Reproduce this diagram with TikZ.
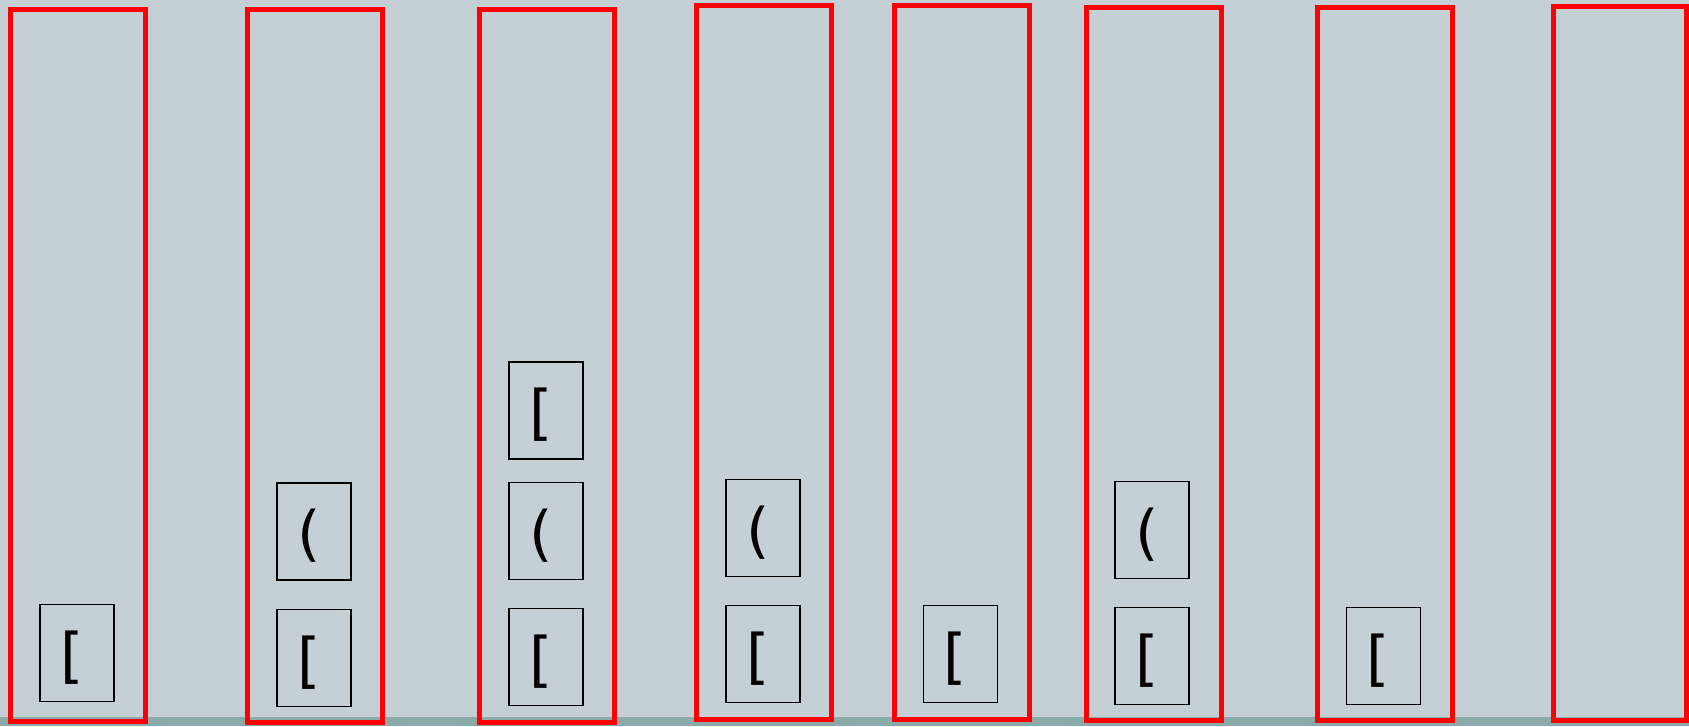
\documentclass[tikz,border=0pt]{standalone}
\usepackage{fontspec}
\newfontfamily\glyphfont{DejaVu Sans}
\definecolor{bgc}{HTML}{C5D0D6}
\definecolor{barc}{HTML}{8BABAB}
\definecolor{redc}{HTML}{FF0000}
\begin{document}
\begin{tikzpicture}[x=0.75pt,y=-0.75pt,
  stack/.style={draw=redc,line width=3.75pt},
  item/.style={draw=black,line width=1.1pt,rectangle,inner sep=0pt,
    minimum width=55.5pt,minimum height=72.75pt,
    font=\glyphfont\fontsize{45pt}{54pt}\selectfont,
    text height=40pt,text depth=5pt},
  ]
\useasboundingbox (0,0) rectangle (1689,726);
\fill[bgc] (0,0) rectangle (1689,726);
\fill[barc] (0,717) rectangle (1689,726);
% stacks
\draw[stack] (10,9) rectangle (145,721);
\draw[stack] (247.5,9.5) rectangle (382,722);
\draw[stack] (479.5,9) rectangle (614.5,722);
\draw[stack] (696,5) rectangle (831,719);
\draw[stack] (894,5) rectangle (1029,719);
\draw[stack] (1086,7) rectangle (1221,720);
\draw[stack] (1317.5,7) rectangle (1452.5,720);
\draw[stack] (1553.5,6.5) rectangle (1686,720.5);
% items
\newcommand{\gl}[1]{\makebox[25.5pt][l]{#1}}
\node[item] (a1) at (77,652.8) {\gl{[}};
\node[item] (b1) at (314,658.2) {\gl{[}};
\node[item] (b2) at (314,531.6) {\gl{(}};
\node[item] (c1) at (546.2,657.1) {\gl{[}};
\node[item] (c2) at (546.2,531) {\gl{(}};
\node[item] (c3) at (546.2,410.4) {\gl{[}};
\node[item] (d1) at (763.2,653.9) {\gl{[}};
\node[item] (d2) at (763.2,527.9) {\gl{(}};
\node[item] (e1) at (960.4,653.9) {\gl{[}};
\node[item] (f1) at (1152,656) {\gl{[}};
\node[item] (f2) at (1152,530) {\gl{(}};
\node[item] (g1) at (1383.7,656) {\gl{[}};
\end{tikzpicture}
\end{document}
